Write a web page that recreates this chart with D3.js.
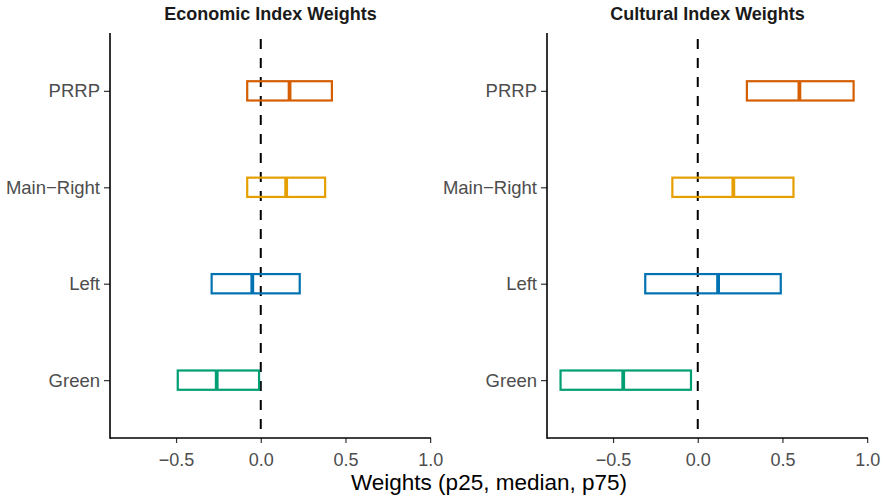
<!DOCTYPE html>
<html>
<head>
<meta charset="utf-8">
<script src="https://cdn.jsdelivr.net/npm/d3@7"></script>
<style>
  body { margin: 0; background: #fff; }
  svg { display: block; font-family: "Liberation Sans", Arial, sans-serif; }
</style>
</head>
<body>
<div id="chart"></div>
<script>
// data
const parties = ["Green", "Left", "Main\u2212Right", "PRRP"];
const colors = ["#009E73", "#0072B2", "#E69F00", "#D55E00"];
const panels = ["Economic Index Weights", "Cultural Index Weights"];

const econP25 = [-0.49, -0.29, -0.08, -0.08];
const econMed = [-0.26, -0.05, 0.15, 0.17];
const econP75 = [-0.01, 0.23, 0.38, 0.42];

const cultP25 = [-0.81, -0.31, -0.15, 0.29];
const cultMed = [-0.44, 0.12, 0.21, 0.60];
const cultP75 = [-0.04, 0.49, 0.565, 0.92];

const xTicks = [-0.5, 0, 0.5, 1.0];

const width = 884, height = 496;
const svg = d3.select("#chart").append("svg")
    .attr("width", width).attr("height", height);

const plotTop = 33, plotBottom = 438;
const panelLeft = [110, 547];
const panelW = 321;

let y = d3.scaleLinear().domain([0.4, 4.6]).range([plotBottom, plotTop]);
let boxH = y(0) - y(0.2);

function drawPanel(i, p25, med, p75)
{
    let x0 = panelLeft[i];
    let x = d3.scaleLinear().domain([-0.89, 1.005]).range([x0, x0 + panelW]);
    let g = svg.append("g");

    let rows = parties.map((p, k) => ({ party: p, col: colors[k], lo: p25[k], mid: med[k], hi: p75[k], pos: k + 1 }));

    // zero reference line
    g.append("line")
        .attr("x1", x(0)).attr("x2", x(0))
        .attr("y1", plotTop).attr("y2", plotBottom)
        .attr("stroke", "#000").attr("stroke-width", 2)
        .attr("stroke-dasharray", "10,9")
        .attr("stroke-dashoffset", 13);

    g.selectAll("rect.box").data(rows).enter().append("rect")
        .attr("class", "box")
        .attr("x", d => x(d.lo))
        .attr("y", d => y(d.pos) - boxH / 2)
        .attr("width", d => x(d.hi) - x(d.lo))
        .attr("height", boxH)
        .attr("fill", "none")
        .attr("stroke", d => d.col)
        .attr("stroke-width", 2.2);

    g.selectAll("line.med").data(rows).enter().append("line")
        .attr("class", "med")
        .attr("x1", d => x(d.mid)).attr("x2", d => x(d.mid))
        .attr("y1", d => y(d.pos) - boxH / 2)
        .attr("y2", d => y(d.pos) + boxH / 2)
        .attr("stroke", d => d.col)
        .attr("stroke-width", 3.8);

    // axes
    let xAxis = g.append("g").attr("transform", `translate(0,${plotBottom})`)
        .call(d3.axisBottom(x).tickValues(xTicks).tickSize(5).tickPadding(10)
            .tickFormat(d => d3.format(".1f")(d).replace("-", "\u2212")));
    xAxis.select(".domain").remove();
    xAxis.selectAll(".tick line").attr("stroke", "#333").attr("stroke-width", 1.2);
    xAxis.selectAll(".tick text").attr("fill", "#4d4d4d").style("font-size", "18px");

    let yAxis = g.append("g").attr("transform", `translate(${x0},0)`)
        .call(d3.axisLeft(y).tickValues([1, 2, 3, 4]).tickSize(6).tickPadding(4)
            .tickFormat(d => parties[d - 1]));
    yAxis.select(".domain").remove();
    yAxis.selectAll(".tick line").attr("stroke", "#333").attr("stroke-width", 1.2);
    yAxis.selectAll(".tick text").attr("fill", "#4d4d4d").style("font-size", "18.5px");

    g.append("line").attr("x1", x0).attr("x2", x0).attr("y1", plotTop).attr("y2", plotBottom + 0.8)
        .attr("stroke", "#000").attr("stroke-width", 1.6);
    g.append("line").attr("x1", x0).attr("x2", x0 + panelW).attr("y1", plotBottom).attr("y2", plotBottom)
        .attr("stroke", "#000").attr("stroke-width", 1.6);

    g.append("text")
        .attr("x", x0 + panelW / 2).attr("y", 20)
        .attr("text-anchor", "middle")
        .style("font-size", "18px").style("font-weight", "bold")
        .attr("fill", "#1a1a1a")
        .text(panels[i]);
}

drawPanel(0, econP25, econMed, econP75);
drawPanel(1, cultP25, cultMed, cultP75);

svg.append("text")
    .attr("x", (panelLeft[0] + panelLeft[1] + panelW) / 2)
    .attr("y", 490)
    .attr("text-anchor", "middle")
    .style("font-size", "22.5px")
    .text("Weights (p25, median, p75)");
</script>
</body>
</html>
